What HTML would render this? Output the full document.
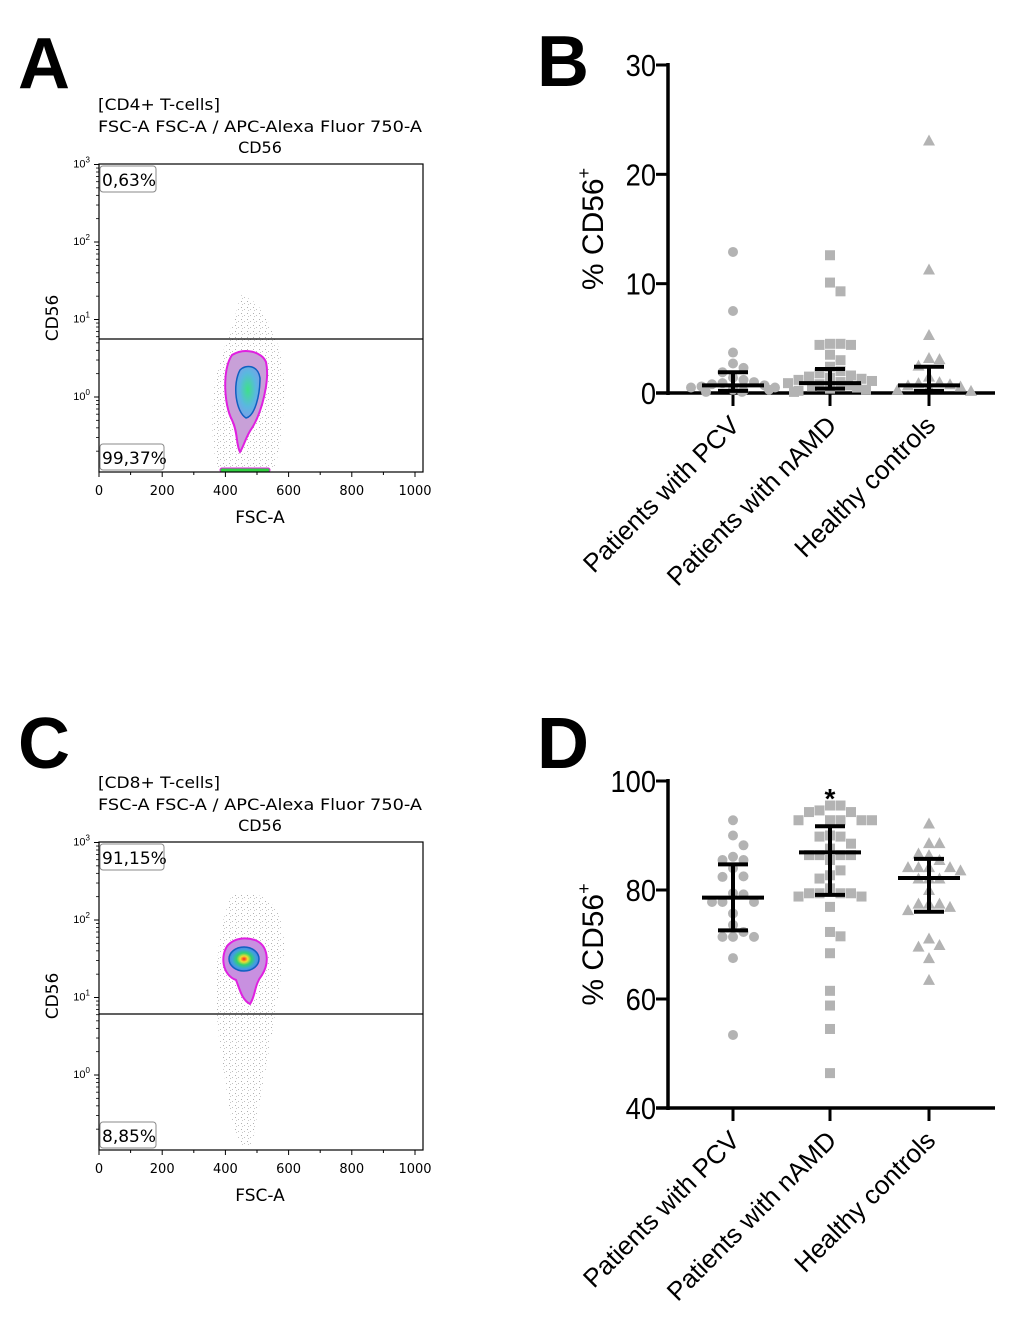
<!DOCTYPE html>
<html><head><meta charset="utf-8"><style>
html,body{margin:0;padding:0;background:#fff;}
svg{display:block;}
.fl{font-family:"DejaVu Sans","Liberation Sans",sans-serif;}
.ar{font-family:"Liberation Sans",Arial,sans-serif;}
</style></head><body>
<svg id="fig" width="1020" height="1339" viewBox="0 0 1020 1339" xmlns="http://www.w3.org/2000/svg">
<defs>
<radialGradient id="gA" cx="0.5" cy="0.45" r="0.55"><stop offset="0" stop-color="#3ee08a"/><stop offset="0.6" stop-color="#5ab8e0"/><stop offset="1" stop-color="#7aa0e8"/></radialGradient>
<radialGradient id="gC" cx="0.5" cy="0.5" r="0.5"><stop offset="0" stop-color="#ff2020"/><stop offset="0.25" stop-color="#f0e030"/><stop offset="0.5" stop-color="#30d070"/><stop offset="0.8" stop-color="#40a0e0"/><stop offset="1" stop-color="#5080e0"/></radialGradient>
<pattern id="speck" width="6" height="6" patternUnits="userSpaceOnUse"><rect x="1" y="1" width="1" height="1" fill="#b0b0b0"/><rect x="4" y="3" width="1" height="1" fill="#c0c0c0"/><rect x="2" y="4" width="1" height="1" fill="#c8c8c8"/></pattern>
</defs>

<text class="ar" x="18" y="88" font-size="72" font-weight="bold">A</text>
<text class="ar" x="537" y="86" font-size="72" font-weight="bold">B</text>
<text class="ar" x="18" y="768" font-size="72" font-weight="bold">C</text>
<text class="ar" x="537" y="768" font-size="72" font-weight="bold">D</text>

<g id="flowA"></g>
<g id="flowC"></g>
<g id="chartB"></g>
<g id="chartD"></g>
</svg>
<script>
// ---- Chart B data (% CD56+ of CD4+ T-cells) ----
const categories = ["Patients with PCV", "Patients with nAMD", "Healthy controls"];
const bPCV = [12.9, 7.5, 3.7, 2.7, 2.3, 1.9, 1.4, 1.2, 1.0, 0.9, 0.8, 0.7, 0.6, 0.5, 0.5, 0.4, 0.3, 0.3, 0.2, 0.1, 0.1];
const bNAMD = [12.6, 10.1, 9.3, 4.5, 4.4, 4.4, 4.5, 3.5, 3.0, 2.4, 2.0, 1.8, 1.6, 1.5, 1.4, 1.3, 1.2, 1.1, 1.0, 0.9, 0.8, 0.7, 0.6, 0.5, 0.4, 0.3, 0.2, 0.1];
const bHC = [23.1, 11.3, 5.3, 3.1, 3.2, 2.5, 1.5, 1.0, 0.9, 0.8, 0.7, 0.6, 0.5, 0.3, 0.2];
const bMedian = [0.7, 0.9, 0.7];
const bLower = [0.2, 0.4, 0.2];
const bUpper = [1.9, 2.2, 2.4];
const bTicks = [0, 10, 20, 30];

// ---- Chart D data (% CD56+ of CD8+ T-cells) ----
const dPCV = [92.8, 90.0, 88.2, 86.1, 85.5, 85.5, 84.0, 82.5, 82.4, 79.4, 79.2, 77.8, 77.8, 77.8, 75.7, 73.6, 72.3, 71.4, 71.4, 71.4, 67.5, 53.4];
const dNAMD = [95.5, 94.6, 94.3, 94.3, 95.5, 92.8, 92.8, 92.8, 92.8, 92.8, 90.0, 89.8, 89.8, 88.5, 87.6, 86.4, 86.4, 86.4, 86.4, 85.5, 83.6, 82.7, 82.1, 80.3, 79.4, 79.4, 79.4, 79.4, 78.8, 78.8, 76.9, 72.3, 71.5, 68.4, 61.5, 58.8, 54.5, 46.4];
const dHC = [92.2, 88.6, 88.6, 86.7, 86.4, 85.5, 84.2, 84.2, 84.2, 84.2, 83.6, 82.1, 82.1, 82.1, 80.0, 77.5, 77.5, 77.5, 76.9, 76.3, 71.1, 69.9, 69.6, 67.5, 63.5];
const dMedian = [78.6, 86.9, 82.2];
const dLower = [72.6, 79.1, 76.0];
const dUpper = [84.7, 91.7, 85.7];
const dTicks = [40, 60, 80, 100];

const NS = "http://www.w3.org/2000/svg";
function mk(parent, tag, attrs, text) {
  const e = document.createElementNS(NS, tag);
  for (const k in attrs) e.setAttribute(k, attrs[k]);
  if (text !== undefined) e.textContent = text;
  parent.appendChild(e);
  return e;
}

function drawScatter(gid, groups, med, lo, hi, ticks, yMin, yMax, yTop, yBot, star) {
  const g = document.getElementById(gid);
  const axX = 668, xEnd = 995;
  const cx = [733, 830, 929];
  const y = v => yBot - (v - yMin) / (yMax - yMin) * (yBot - yTop);
  let a = mk(g, "line", {x1: axX, y1: yTop - 2, x2: axX, y2: yBot + 2, stroke: "#000", "stroke-width": 3.5});
  
  
  a = mk(g, "line", {x1: axX - 12, y1: yBot, x2: xEnd, y2: yBot, stroke: "#000", "stroke-width": 3.5});
  
  
  ticks.forEach(t => {
    const ty = y(t);
    const l = mk(g, "line", {x1: axX - 12, y1: ty, x2: axX, y2: ty, stroke: "#000", "stroke-width": 3});
    
    
    const tx = mk(g, "text", {x: axX - 12, y: ty + 11, "text-anchor": "end", "font-size": 31, class: "ar", transform: `translate(${axX-12} 0) scale(0.88 1) translate(${-(axX-12)} 0)`}, String(t));
    
    
  });
  const yt = mk(g, "text", {x: 0, y: 0, "text-anchor": "middle", "font-size": 30, class: "ar", transform: `translate(603 ${(yTop + yBot) / 2}) rotate(-90)`});
  
  
  yt.appendChild(document.createTextNode("% CD56"));
  mk(yt, "tspan", {"font-size": 18, dy: -13}, "+");
  const shapes = ["circle", "square", "triangle"];
  groups.forEach((vals, gi) => {
    const t = mk(g, "line", {x1: cx[gi], y1: yBot, x2: cx[gi], y2: yBot + 13, stroke: "#000", "stroke-width": 3});
    
    
    const lab = mk(g, "text", {x: 0, y: 0, "text-anchor": "end", "font-size": 26, class: "ar", transform: `translate(${cx[gi] + 8} ${yBot + 34}) rotate(-45)`}, categories[gi]);
    
    
    const placed = [];
    const d = 10.5;
    const sorted = vals.slice().sort((p, q) => q - p);
    sorted.forEach((v, idx) => {
      const py = y(v);
      let off = null;
      for (let k = 0; k <= 8; k++) {
        const cand = (k % 2 ? 1 : -1) * Math.ceil(k / 2) * d;
        if (placed.every(p => Math.hypot(p[0] - cand, p[1] - py) >= d)) { off = cand; break; }
      }
      if (off === null) off = ((idx * 5) % 9 - 4) * 9;
      placed.push([off, py]);
      const px = cx[gi] + off;
      let m;
      if (shapes[gi] === "circle") m = mk(g, "circle", {cx: px, cy: py, r: 5, fill: "#b3b3b3"});
      else if (shapes[gi] === "square") m = mk(g, "rect", {x: px - 5, y: py - 5, width: 10, height: 10, fill: "#b3b3b3"});
      else m = mk(g, "polygon", {points: `${px},${py - 6} ${px + 6},${py + 5} ${px - 6},${py + 5}`, fill: "#b3b3b3"});
      
      
    });
    const my = y(med[gi]), ly = y(lo[gi]), hy = y(hi[gi]);
    const eb = mk(g, "path", {d: `M${cx[gi]} ${ly}V${hy}M${cx[gi] - 15} ${ly}H${cx[gi] + 15}M${cx[gi] - 15} ${hy}H${cx[gi] + 15}M${cx[gi] - 31} ${my}H${cx[gi] + 31}`, stroke: "#000", "stroke-width": 4, fill: "none"});
    
    
  });
  if (star) {
    const s = mk(g, "text", {x: cx[1], y: yTop + 27, "text-anchor": "middle", "font-size": 28, "font-weight": "bold", class: "ar"}, "*");
    
    
  }
}

drawScatter("chartB", [bPCV, bNAMD, bHC], bMedian, bLower, bUpper, bTicks, 0, 30, 65, 393, false);
drawScatter("chartD", [dPCV, dNAMD, dHC], dMedian, dLower, dUpper, dTicks, 40, 100, 781, 1108, true);

function drawFlow(gid, oy, title, gateY, topPct, botPct, isC) {
  const g = document.getElementById(gid);
  const L = 99, R = 423, T = 164 + oy, B = 472 + oy;
  const ft = [[title, 110], ["FSC-A FSC-A / APC-Alexa Fluor 750-A", 132]];
  ft.forEach((f, i) => {
    const t = mk(g, "text", {x: 98, y: f[1] + oy, "font-size": 16, class: "fl", textLength: i ? 324 : 122, lengthAdjust: "spacingAndGlyphs"}, f[0]);
    
    
  });
  let t = mk(g, "text", {x: 260, y: 153 + oy, "font-size": 16, "text-anchor": "middle", class: "fl"}, "CD56");
  
  
  if (!isC) {
    mk(g, "path", {d: `M240 ${295+oy} C236 ${320+oy},225 ${340+oy},215 ${380+oy} C210 ${420+oy},212 ${450+oy},218 ${468+oy} L275 ${468+oy} C285 ${430+oy},288 ${370+oy},278 ${345+oy} C270 ${325+oy},262 ${300+oy},240 ${295+oy}Z`, fill: "url(#speck)"});
    mk(g, "path", {d: `M232 ${355+oy} C222 ${370+oy},224 ${405+oy},232 ${420+oy} C238 ${432+oy},236 ${445+oy},240 ${452+oy} C244 ${446+oy},246 ${436+oy},252 ${428+oy} C262 ${412+oy},270 ${380+oy},266 ${362+oy} C262 ${352+oy},245 ${347+oy},232 ${355+oy}Z`, fill: "#c8a0d8", stroke: "#e020e0", "stroke-width": 2});
    mk(g, "path", {d: `M240 ${370+oy} C232 ${385+oy},236 ${412+oy},246 ${418+oy} C255 ${416+oy},260 ${395+oy},260 ${378+oy} C258 ${365+oy},246 ${364+oy},240 ${370+oy}Z`, fill: "url(#gA)", stroke: "#1060c0", "stroke-width": 1.5});
    mk(g, "rect", {x: 220, y: 468 + oy, width: 50, height: 4, rx: 2, fill: "#30d040", stroke: "#e020e0", "stroke-width": 1});
  } else {
    mk(g, "path", {d: `M232 ${895+oy-678} C215 ${930+oy-678},212 ${1000+oy-678},222 ${1060+oy-678} C228 ${1100+oy-678},232 ${1130+oy-678},240 ${1145+oy-678} L252 ${1145+oy-678} C260 ${1100+oy-678},272 ${1040+oy-678},282 ${970+oy-678} C290 ${920+oy-678},275 ${885+oy-678},232 ${895+oy-678}Z`, fill: "url(#speck)"});
    mk(g, "path", {d: `M228 ${945+oy-678} C220 ${955+oy-678},222 ${975+oy-678},236 ${980+oy-678} C240 ${990+oy-678},242 ${1000+oy-678},250 ${1004+oy-678} C256 ${995+oy-678},254 ${985+oy-678},262 ${975+oy-678} C270 ${962+oy-678},268 ${945+oy-678},255 ${940+oy-678} C245 ${937+oy-678},235 ${938+oy-678},228 ${945+oy-678}Z`, fill: "#c890e0", stroke: "#e020e0", "stroke-width": 2});
    mk(g, "ellipse", {cx: 244, cy: 959 + oy - 678, rx: 15, ry: 12, fill: "url(#gC)", stroke: "#1060c0", "stroke-width": 1.5});
  }
  const bx = mk(g, "rect", {x: L, y: T, width: R - L, height: B - T, fill: "none", stroke: "#000", "stroke-width": 1.2});
  
  
  const gl = mk(g, "line", {x1: L, y1: gateY + oy, x2: R, y2: gateY + oy, stroke: "#000", "stroke-width": 1.2});
  
  
  const dec = 77.5, y0 = 397 + oy;
  for (let e = 0; e <= 3; e++) {
    const ty = y0 - e * dec;
    mk(g, "line", {x1: L - 5, y1: ty, x2: L, y2: ty, stroke: "#000"});
    const tl = mk(g, "text", {x: L - 9, y: ty + 3, "text-anchor": "end", "font-size": 11, class: "ar"}, "10");
    mk(tl, "tspan", {"font-size": 8, dy: -5}, String(e));
    
    
    for (let m = 2; m <= 9; m++) {
      const my = ty - Math.log10(m) * dec;
      if (e < 3) mk(g, "line", {x1: L - 3, y1: my, x2: L, y2: my, stroke: "#000", "stroke-width": 0.8});
      const my2 = ty + dec - Math.log10(m) * dec;
      if (e === 0 && my2 < B) mk(g, "line", {x1: L - 3, y1: my2, x2: L, y2: my2, stroke: "#000", "stroke-width": 0.8});
    }
  }
  const xs = v => L + v / 1000 * 316;
  for (let v = 0; v <= 1000; v += 100) {
    mk(g, "line", {x1: xs(v), y1: B, x2: xs(v), y2: B + (v % 200 ? 3 : 5), stroke: "#000"});
    if (v % 200 === 0) {
      const xl = mk(g, "text", {x: xs(v), y: B + 23, "text-anchor": "middle", "font-size": 13, class: "fl"}, String(v));
      
      
    }
  }
  t = mk(g, "text", {x: 260, y: B + 51, "text-anchor": "middle", "font-size": 17, class: "fl"}, "FSC-A");
  
  
  t = mk(g, "text", {x: 0, y: 0, "text-anchor": "middle", "font-size": 17, class: "fl", transform: `translate(58 ${318 + oy}) rotate(-90)`}, "CD56");
  
  
  const pb = (txt, y1, w, name) => {
    mk(g, "rect", {x: L + 1, y: y1, width: w, height: 26, rx: 3, fill: "#fff", stroke: "#888", "stroke-width": 1});
    const tt = mk(g, "text", {x: L + 3, y: y1 + 20, "font-size": 17, class: "fl"}, txt);
    
    
  };
  pb(topPct, T + 2, topPct.length > 5 ? 64 : 56, 'upper-gate-percent');
  pb(botPct, B - 28, botPct.length > 5 ? 64 : 56, 'lower-gate-percent');
}
drawFlow("flowA", 0, "[CD4+ T-cells]", 339, "0,63%", "99,37%", false);
drawFlow("flowC", 678, "[CD8+ T-cells]", 336, "91,15%", "8,85%", true);
</script>
</body></html>
